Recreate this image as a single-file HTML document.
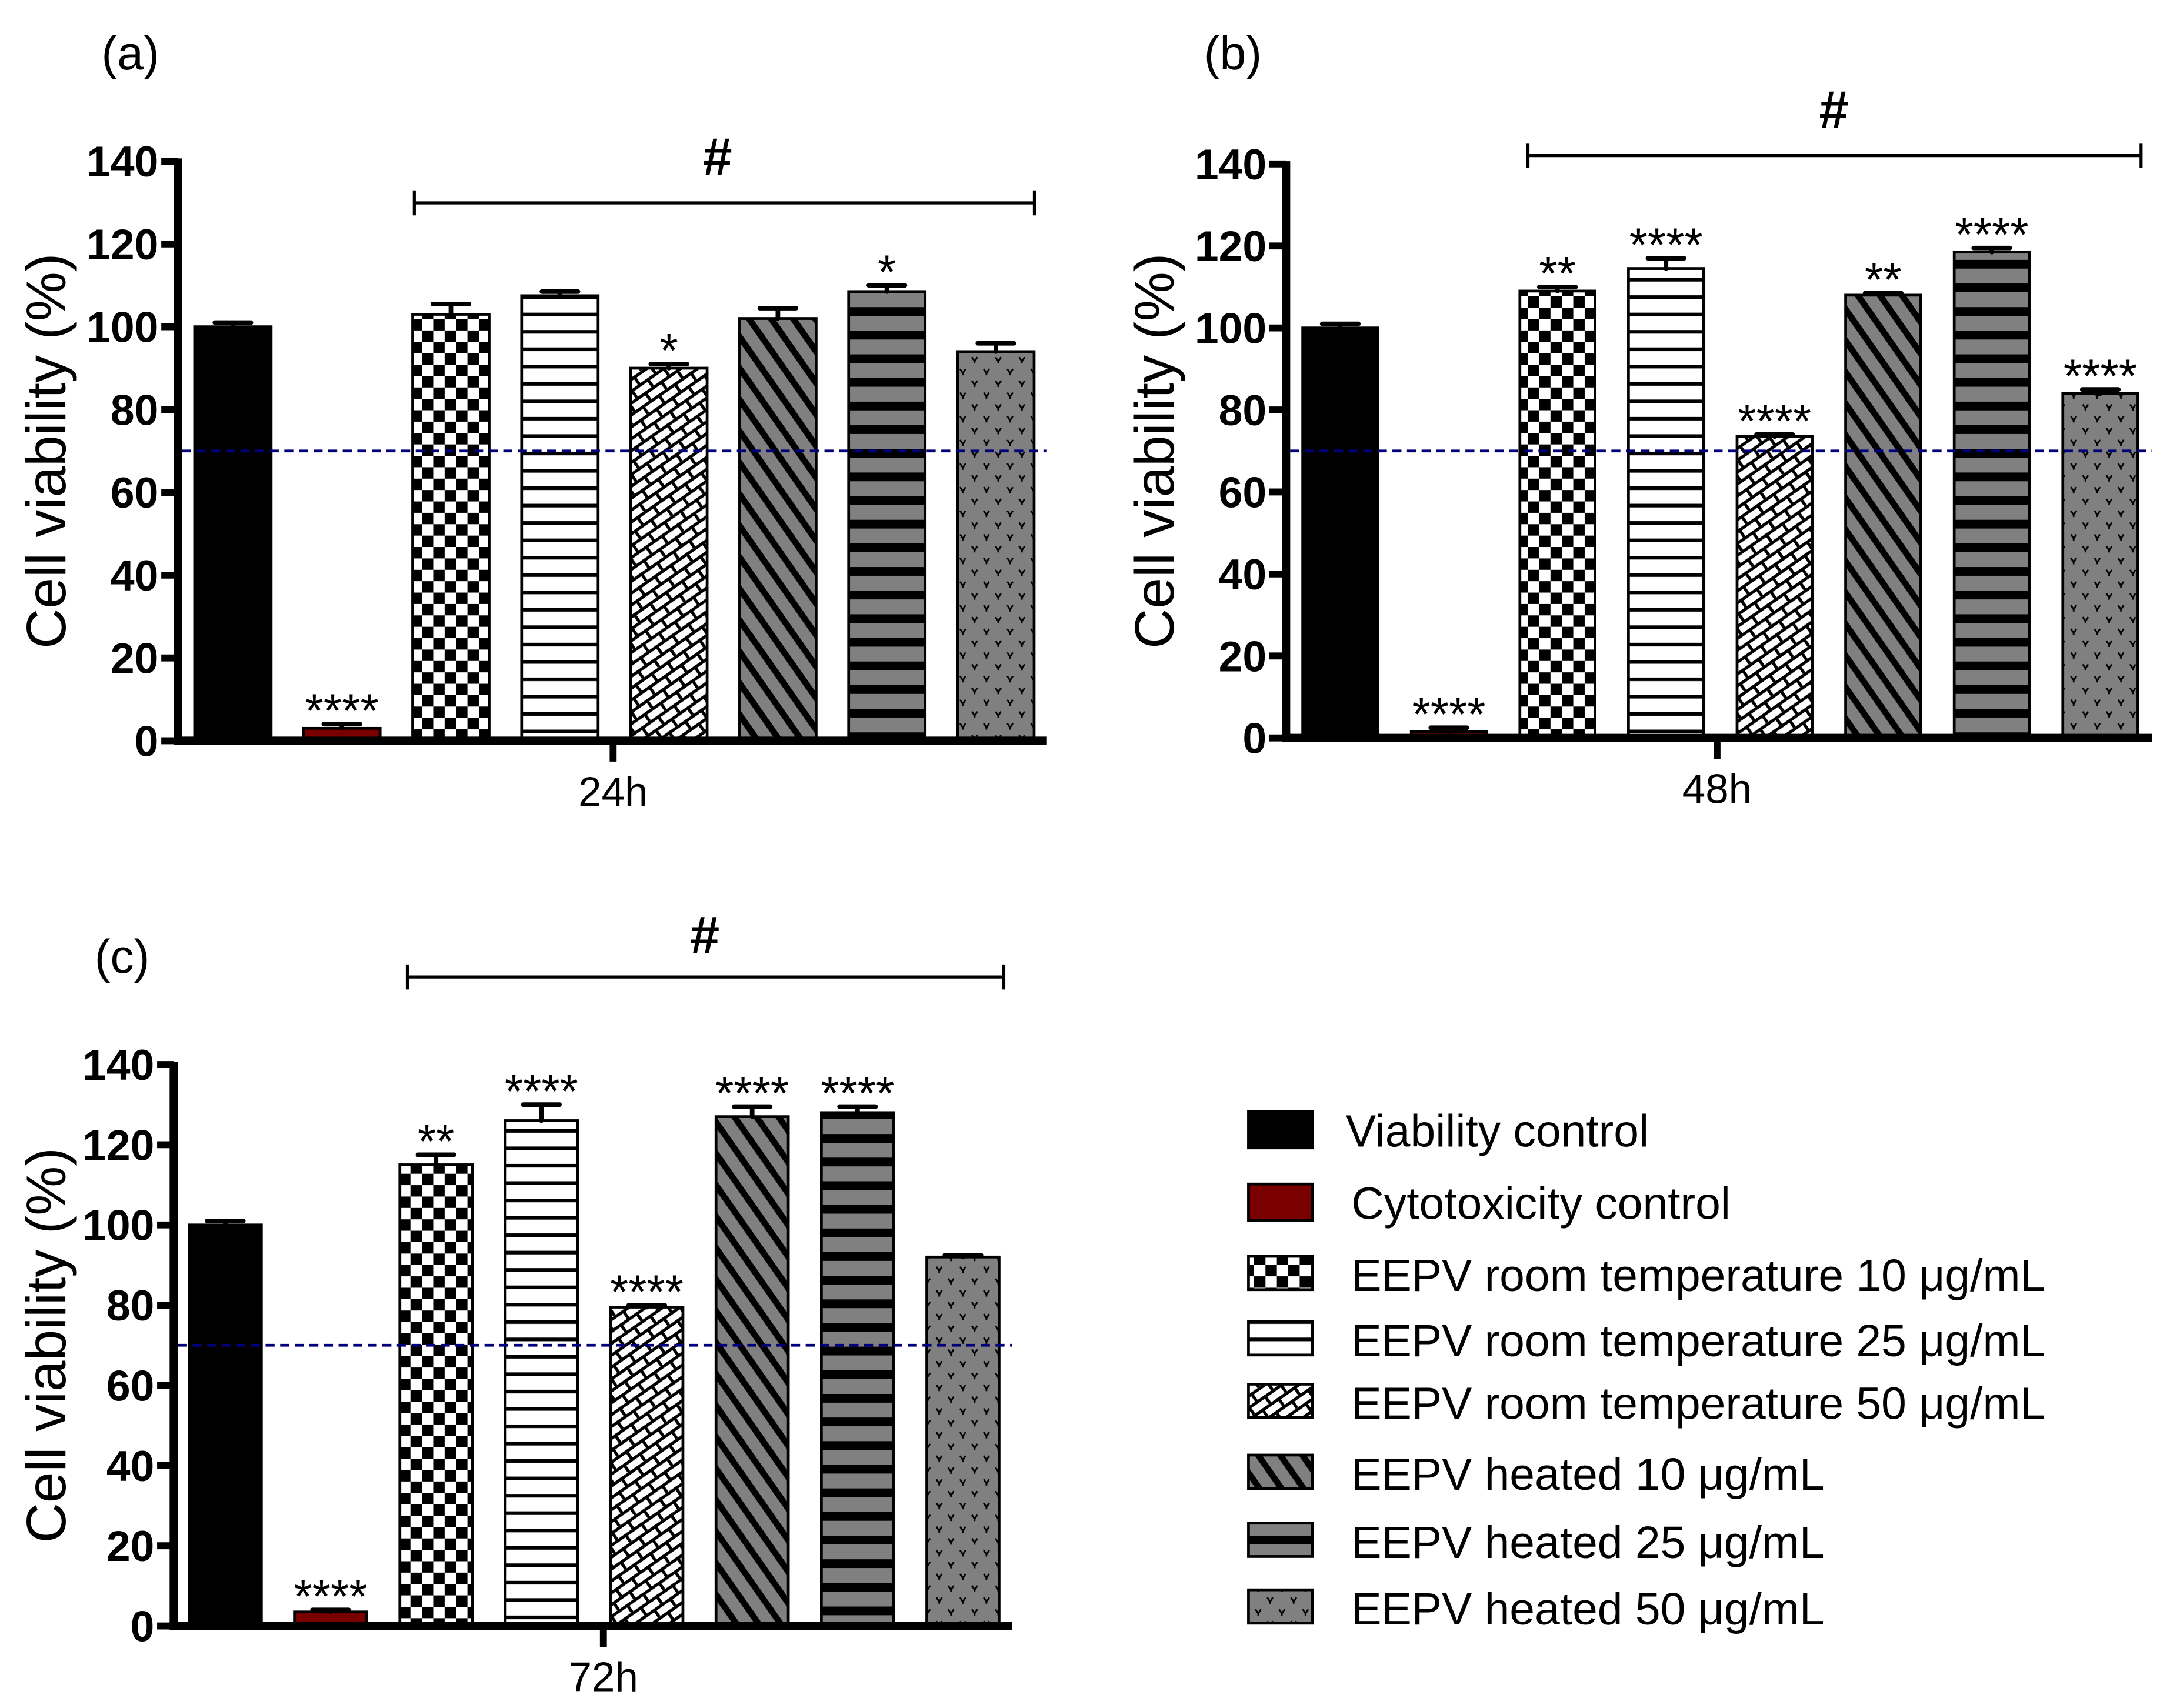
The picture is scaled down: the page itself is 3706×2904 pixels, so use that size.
<!DOCTYPE html>
<html><head><meta charset="utf-8"><style>html,body{margin:0;padding:0;background:#fff}svg{display:block}text{font-family:"Liberation Sans",Arial,sans-serif}</style></head>
<body>
<svg id="fig" width="3706" height="2904" viewBox="0 0 1568 1229" preserveAspectRatio="none" xmlns="http://www.w3.org/2000/svg">
<defs>
<pattern id="p-check" width="16.4" height="16.4" patternUnits="userSpaceOnUse"><rect width="16.4" height="16.4" fill="#fff"/><rect width="8.2" height="8.2" fill="#000"/><rect x="8.2" y="8.2" width="8.2" height="8.2" fill="#000"/></pattern>
<pattern id="p-hline" width="10" height="12.5" patternUnits="userSpaceOnUse"><rect width="10" height="12.5" fill="#fff"/><rect y="0" width="10" height="2.6" fill="#000"/></pattern>
<pattern id="p-cross" width="14" height="14" patternUnits="userSpaceOnUse" patternTransform="rotate(-35)"><rect width="14" height="14" fill="#fff"/><rect width="14" height="2.2" fill="#000"/><rect x="0" y="0" width="2.2" height="7" fill="#000"/><rect x="7" y="7" width="2.2" height="7" fill="#000"/><rect y="7" width="14" height="2.2" fill="#000"/></pattern>
<pattern id="p-diag" width="13" height="13" patternUnits="userSpaceOnUse" patternTransform="rotate(55)"><rect width="13" height="13" fill="#808080"/><rect width="13" height="4.5" fill="#000"/></pattern>
<pattern id="p-band" width="10" height="17" patternUnits="userSpaceOnUse"><rect width="10" height="17" fill="#808080"/><rect y="0" width="10" height="6.3" fill="#000"/></pattern>
<pattern id="p-dots" width="17" height="17" patternUnits="userSpaceOnUse"><rect width="17" height="17" fill="#808080"/><path d="M2 2 L4 5 L6 2 M4 5 V6.5 M10.5 10.5 L12.5 13.5 L14.5 10.5 M12.5 13.5 V15" stroke="#000" stroke-width="1.2" fill="none"/></pattern>
</defs>
<g id="root"></g>
</svg>
<script>
const ticks = [0,20,40,60,80,100,120,140];
const fills = ["#000","#7a0000","url(#p-check)","url(#p-hline)","url(#p-cross)","url(#p-diag)","url(#p-band)","url(#p-dots)"];
const valuesA = [100,3,103,107.5,90,102,108.5,94];
const errorsA = [1,1,2.5,1,1,2.5,1.5,2];
const starsA = ["","****","","","*","","*",""];
const valuesB = [100,1.5,109,114.5,73.5,108,118.5,84];
const errorsB = [1,1,1,2.5,0.5,0.5,1,1];
const starsB = ["","****","**","****","****","**","****","****"];
const valuesC = [100,3.5,115,126,79.5,127,128,92];
const errorsC = [1,0.5,2.5,4,0.5,2.5,1.5,0.5];
const starsC = ["","****","**","****","****","****","****",""];
const legendLabels = ["Viability control","Cytotoxicity control","EEPV room temperature 10 μg/mL","EEPV room temperature 25 μg/mL","EEPV room temperature 50 μg/mL","EEPV heated 10 μg/mL","EEPV heated 25 μg/mL","EEPV heated 50 μg/mL"];
const threshold = 70;

const NS="http://www.w3.org/2000/svg";
const root=document.getElementById('root');
function mk(tag,attrs,parent){const e=document.createElementNS(NS,tag);for(const k in attrs)e.setAttribute(k,attrs[k]);(parent||root).appendChild(e);return e;}

const panels=[
 {id:'a',vals:valuesA,errs:errorsA,stars:starsA,ax:128,y0:533,y140:116,x0:140,step:78.4,bw:55,xend:753,tick:441,time:"24h",label:"(a)",lx:73,ly:50,br:[298,744,146],hx:516,hy:126,tx:33},
 {id:'b',vals:valuesB,errs:errorsB,stars:starsB,ax:925,y0:531,y140:118,x0:937,step:78.1,bw:54,xend:1548,tick:1235,time:"48h",label:"(b)",lx:866,ly:50,br:[1099,1540,112],hx:1319,hy:92,tx:830},
 {id:'c',vals:valuesC,errs:errorsC,stars:starsC,ax:125,y0:1170,y140:766,x0:136,step:75.8,bw:52,xend:728,tick:434,time:"72h",label:"(c)",lx:68,ly:700,br:[293,722,703],hx:507,hy:686,tx:33}
];

panels.forEach(p=>{
 const g=mk('g',{});
 
 
 const ys=v=>p.y0-(v/140)*(p.y0-p.y140);
 const xs=i=>p.x0+i*p.step;
 p.vals.forEach((v,i)=>{
  const b=mk('rect',{x:xs(i),y:ys(v),width:p.bw,height:p.y0-ys(v),fill:fills[i],stroke:'#000','stroke-width':2},g);
  
  
  const cx=xs(i)+p.bw/2, top=ys(v+p.errs[i]);
  const e=mk('path',{d:`M${cx} ${ys(v)} V${top} M${cx-13} ${top} H${cx+13}`,stroke:'#000','stroke-width':3.3,'stroke-linecap':'round',fill:'none'},g);
  
  
  if(p.stars[i]){
   const t=mk('text',{x:cx,y:top+2,'font-size':34,'text-anchor':'middle'},g);
   t.textContent=p.stars[i];
   
   
  }
 });
 const d=mk('line',{x1:p.ax+3,x2:p.xend,y1:ys(threshold),y2:ys(threshold),stroke:'#00007a','stroke-width':2,'stroke-dasharray':'6.5 4'},g);
 
 
 const ya=mk('line',{x1:p.ax,x2:p.ax,y1:p.y140-2,y2:p.y0+3,stroke:'#000','stroke-width':6},g);
 
 
 const xa=mk('line',{x1:p.ax-3,x2:p.xend,y1:p.y0,y2:p.y0,stroke:'#000','stroke-width':6},g);
 
 
 const xt=mk('line',{x1:p.tick,x2:p.tick,y1:p.y0,y2:p.y0+15,stroke:'#000','stroke-width':5},g);
 
 
 const xl=mk('text',{x:p.tick,y:p.y0+47,'font-size':30,'text-anchor':'middle'},g);
 xl.textContent=p.time;
 
 
 ticks.forEach(t=>{
  const y=ys(t);
  const tk=mk('line',{x1:p.ax-12,x2:p.ax,y1:y,y2:y,stroke:'#000','stroke-width':5},g);
  
  
  const tl=mk('text',{x:p.ax-14,y:y+11,'font-size':31,'font-weight':'bold','text-anchor':'end'},g);
  tl.textContent=t;
  
  
 });
 const cy=(p.y0+p.y140)/2;
 const yt=mk('text',{x:p.tx,y:cy,'font-size':40,'text-anchor':'middle',transform:`rotate(-90 ${p.tx} ${cy})`,dy:14},g);
 yt.textContent="Cell viability (%)";
 
 
 const pl=mk('text',{x:p.lx,y:p.ly,'font-size':34},g);
 pl.textContent=p.label;
 
 
 const [bx1,bx2,by]=p.br;
 const br=mk('path',{d:`M${bx1} ${by-9} V${by+9} M${bx1} ${by} H${bx2} M${bx2} ${by-9} V${by+9}`,stroke:'#000','stroke-width':2.2,fill:'none'},g);
 
 
 const h=mk('text',{x:p.hx,y:p.hy,'font-size':38,'font-weight':'bold','text-anchor':'middle'},g);
 h.textContent="#";
 
 
});

const legRows=[813,865,917,964,1009,1060,1109,1157];
const lg=mk('g',{});


legendLabels.forEach((lab,i)=>{
 const y=legRows[i];
 const sw=mk('rect',{x:898,y:y-13,width:46,height:i<2?26:24,fill:fills[i],stroke:'#000','stroke-width':2},lg);
 
 
 const t=mk('text',{x:i==0?968:972,y:y+12,'font-size':32.5},lg);
 t.textContent=lab;
 
 
});
</script>
</body></html>
